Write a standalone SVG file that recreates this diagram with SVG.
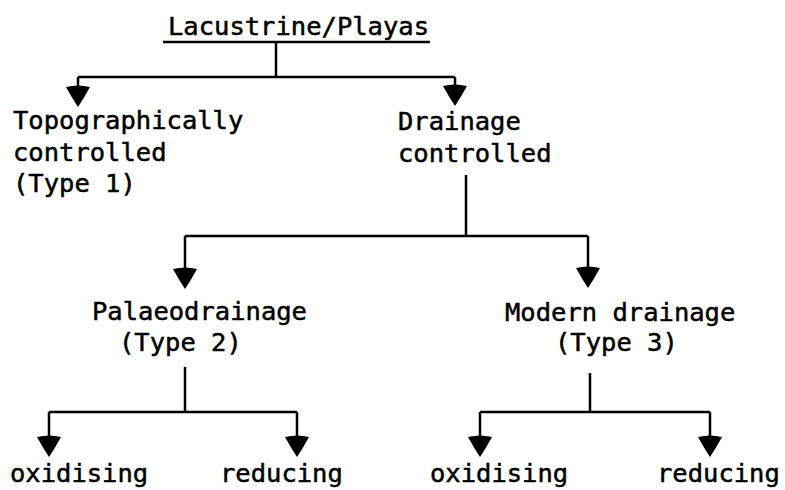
<svg xmlns="http://www.w3.org/2000/svg" width="785" height="490" viewBox="0 0 785 490">
<defs>
<style>
text{font-family:"DejaVu Sans Mono","Liberation Mono",monospace;font-size:25.5px;fill:#000;stroke:#000;stroke-width:0.5}
.ln{stroke:#000;stroke-width:2.5;fill:none}
</style>
<marker id="ah" markerUnits="userSpaceOnUse" orient="auto" refX="0" refY="0" markerWidth="30" markerHeight="30" overflow="visible">
<path d="M10,0 Q1,-6 -10,-12 Q-13,0 -10,12 Q1,6 10,0 z" fill="#000"/>
</marker>
</defs>
<rect width="785" height="490" fill="#fff"/>
<g id="connectors">
<line class="ln" x1="163" y1="42" x2="430" y2="42"/>
<path class="ln" d="M276,42 V77 M78,77 H455 M466,175 V236 M185,236 H588 M185,367 V412 M49,412 H297 M590,373 V412 M480,412 H710"/>
<path class="ln" d="M78,77 V97" marker-end="url(#ah)"/>
<path class="ln" d="M455,77 V96" marker-end="url(#ah)"/>
<path class="ln" d="M185,236 V279" marker-end="url(#ah)"/>
<path class="ln" d="M588,236 V278" marker-end="url(#ah)"/>
<path class="ln" d="M49,412 V447" marker-end="url(#ah)"/>
<path class="ln" d="M297,412 V447" marker-end="url(#ah)"/>
<path class="ln" d="M480,412 V447" marker-end="url(#ah)"/>
<path class="ln" d="M710,412 V447" marker-end="url(#ah)"/>
</g>
<g id="root"><text x="168" y="35">Lacustrine/Playas</text></g>
<g id="topo"><text x="13" y="129">Topographically</text><text x="13" y="161">controlled</text><text x="13" y="192">(Type 1)</text></g>
<g id="drainage"><text x="398" y="130">Drainage</text><text x="398" y="162">controlled</text></g>
<g id="palaeo"><text x="92" y="320">Palaeodrainage</text><text x="119" y="351">(Type 2)</text></g>
<g id="modern"><text x="505" y="321">Modern drainage</text><text x="555" y="351">(Type 3)</text></g>
<g id="p-ox"><text x="10" y="482">oxidising</text></g>
<g id="p-red"><text x="220" y="482">reducing</text></g>
<g id="m-ox"><text x="430" y="482">oxidising</text></g>
<g id="m-red"><text x="657" y="482">reducing</text></g>
</svg>
